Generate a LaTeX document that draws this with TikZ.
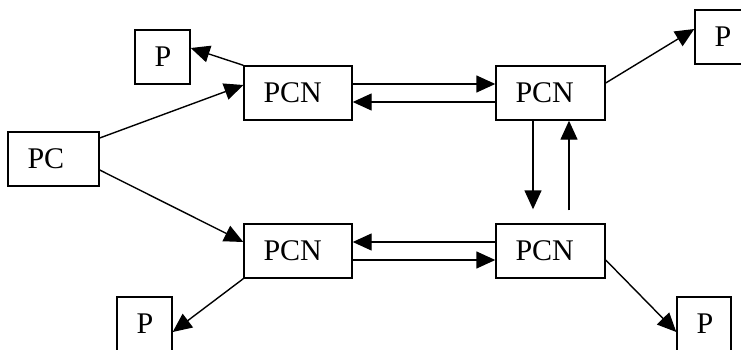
\documentclass[tikz,border=0pt]{standalone}
\usepackage{fontspec}
\setmainfont{Liberation Serif}
\usetikzlibrary{arrows.meta}

\tikzset{
  box/.style={draw, line width=1.4pt, minimum height=54pt, inner ysep=0pt,
    inner xsep=19.5pt, align=left, text width=#1,
    font=\fontsize{30pt}{30pt}\selectfont},
  link/.style={line width=1.4pt, -{Triangle[length=19pt,width=17pt]}}
}

\begin{document}
\begin{tikzpicture}[x=1pt, y=-1pt]
  \clip (0,0) rectangle (741,350);
  \useasboundingbox (0,0) rectangle (741,350);

  % processor / node boxes
  \node[box=16pt] (pA) at (162.5,57)  {P};
  \node[box=16pt] (pB) at (722.5,37)  {P};
  \node[box=16pt] (pC) at (144.5,324) {P};
  \node[box=15pt] (pD) at (704,324)   {P};
  \node[box=52pt] (pc) at (53.5,159)  {PC};
  \node[box=69pt] (tl) at (298,93)    {PCN};
  \node[box=70pt] (tr) at (550.5,93)  {PCN};
  \node[box=69pt] (bl) at (298,251)   {PCN};
  \node[box=70pt] (br) at (550.5,251) {PCN};

  % controller to the two left nodes
  \draw[link] ([yshift=21pt]pc.east) -- ([yshift=8pt]tl.west);
  \draw[link] ([yshift=-11pt]pc.east) -- ([yshift=9pt]bl.west);

  % nodes to their processors
  \draw[link] (tl.north west) -- ([yshift=9pt]pA.east);
  \draw[link] ([yshift=10pt]tr.east) -- ([yshift=8pt]pB.west);
  \draw[link] (bl.south west) -- ([yshift=-8pt]pC.east);
  \draw[link] ([yshift=-9pt]br.east) -- ([yshift=-8pt]pD.west);

  % horizontal pairs
  \draw[link] ([yshift=9pt]tl.east) -- ([yshift=9pt]tr.west);
  \draw[link] ([yshift=-9pt]tr.west) -- ([yshift=-9pt]tl.east);
  \draw[link] ([yshift=9pt]br.west) -- ([yshift=9pt]bl.east);
  \draw[link] ([yshift=-9pt]bl.east) -- ([yshift=-9pt]br.west);

  % vertical pair
  \draw[link, shorten >=14pt] ([xshift=-17.5pt]tr.south) -- ([xshift=-17.5pt]br.north);
  \draw[link, shorten <=13pt] ([xshift=18.5pt]br.north) -- ([xshift=18.5pt]tr.south);
\end{tikzpicture}
\end{document}
